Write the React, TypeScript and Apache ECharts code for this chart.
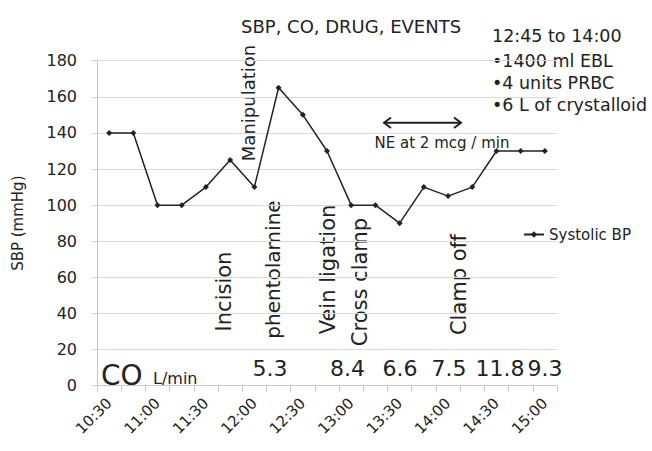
import React, { useEffect, useRef } from "react";
import * as echarts from "echarts";

const times = [
  "10:30", "10:45", "11:00", "11:15", "11:30", "11:45", "12:00", "12:15", "12:30", "12:45",
  "13:00", "13:15", "13:30", "13:45", "14:00", "14:15", "14:30", "14:45", "15:00",
];
const sbp = [140, 140, 100, 100, 110, 125, 110, 165, 150, 130, 100, 100, 90, 110, 105, 110, 130, 130, 130];
const yTicks = { min: 0, max: 180, interval: 20 };
const coValues = ["5.3", "8.4", "6.6", "7.5", "11.8", "9.3"];
const events = ["Manipulation", "Incision", "phentolamine", "Vein ligation", "Cross clamp", "Clamp off"];
const infoLines = ["12:45 to 14:00", "\u20221400 ml EBL", "\u20224 units PRBC", "\u20226 L of crystalloid"];
const drugLabel = "NE at 2 mcg / min";

const FONT = "DejaVu Sans";
const INK = "#222";

export default function App() {
  const ref = useRef<HTMLDivElement>(null);
  useEffect(() => {
    if (!ref.current) return;
    const chart = echarts.init(ref.current, undefined, { renderer: "svg" });

    const coX = [270, 347.5, 400, 449, 500, 545];
    const eventPos = [
      { x: 248, y: 103, size: 18 },
      { x: 223.5, y: 291.5, size: 21 },
      { x: 272.5, y: 269.5, size: 20 },
      { x: 328, y: 269.5, size: 21 },
      { x: 359.5, y: 282, size: 21 },
      { x: 459, y: 284.5, size: 21 },
    ];
    const infoY = [35.7, 60.5, 82.5, 105];

    const graphic: any[] = [];
    events.forEach((t, i) => {
      const p = eventPos[i];
      graphic.push({
        type: "text",
        x: p.x,
        y: p.y,
        rotation: Math.PI / 2,
        style: { text: t, fill: INK, font: `${p.size}px "${FONT}"`, align: "center", verticalAlign: "middle" },
      });
    });
    coValues.forEach((t, i) => {
      graphic.push({
        type: "text",
        x: coX[i],
        y: 368,
        style: { text: t, fill: INK, font: `22px "${FONT}"`, align: "center", verticalAlign: "middle" },
      });
    });
    graphic.push({
      type: "text",
      x: 101,
      y: 375,
      style: { text: "CO", fill: INK, font: `28px "${FONT}"`, align: "left", verticalAlign: "middle" },
    });
    graphic.push({
      type: "text",
      x: 153,
      y: 378.5,
      style: { text: "L/min", fill: INK, font: `16px "${FONT}"`, align: "left", verticalAlign: "middle" },
    });
    infoLines.forEach((t, i) => {
      graphic.push({
        type: "text",
        x: 492,
        y: infoY[i],
        style: { text: t, fill: INK, font: `17.5px "${FONT}"`, align: "left", verticalAlign: "middle" },
      });
    });
    graphic.push({
      type: "text",
      x: 442,
      y: 143,
      style: { text: drugLabel, fill: INK, font: `15px "${FONT}"`, align: "center", verticalAlign: "middle" },
    });
    // double-headed arrow
    graphic.push({ type: "line", shape: { x1: 384, y1: 122.7, x2: 461, y2: 122.7 }, style: { stroke: INK, lineWidth: 2 } });
    graphic.push({
      type: "polyline",
      shape: { points: [[391, 117.5], [384, 122.7], [391, 128]] },
      style: { stroke: INK, lineWidth: 2, fill: "none" },
    });
    graphic.push({
      type: "polyline",
      shape: { points: [[454, 117.5], [461, 122.7], [454, 128]] },
      style: { stroke: INK, lineWidth: 2, fill: "none" },
    });

    chart.setOption({
      animation: false,
      textStyle: { fontFamily: FONT },
      title: {
        text: "SBP, CO, DRUG, EVENTS",
        left: 241,
        top: 17,
        padding: 0,
        textStyle: { fontFamily: FONT, fontSize: 18, fontWeight: "normal", color: INK },
      },
      legend: {
        left: 518,
        top: 222,
        itemWidth: 20,
        itemHeight: 8,
        textStyle: { fontFamily: FONT, fontSize: 15, color: INK },
        data: ["Systolic BP"],
      },
      grid: { left: 97, right: 95, top: 60.7, bottom: 65.3, containLabel: false },
      xAxis: {
        type: "category",
        data: times,
        boundaryGap: true,
        axisLine: { lineStyle: { color: "#c8c8c8", width: 1 } },
        axisTick: { show: true, interval: 0, length: 6, lineStyle: { color: "#c8c8c8" } },
        axisLabel: { interval: 1, rotate: 45, fontSize: 15, color: INK, fontFamily: FONT, margin: 15 },
        splitLine: { show: false },
      },
      yAxis: {
        type: "value",
        min: yTicks.min,
        max: yTicks.max,
        interval: yTicks.interval,
        name: "SBP (mmHg)",
        nameLocation: "middle",
        nameGap: 72,
        nameTextStyle: { fontFamily: FONT, fontSize: 15, color: INK },
        axisLine: { show: true, lineStyle: { color: "#c8c8c8", width: 1 } },
        axisTick: { show: true, length: 6, lineStyle: { color: "#d4d4d4" } },
        axisLabel: { fontSize: 16, color: INK, fontFamily: FONT, margin: 20 },
        splitLine: { show: true, lineStyle: { color: "#d9d9d9", width: 1 } },
      },
      series: [
        {
          name: "Systolic BP",
          type: "line",
          data: sbp,
          symbol: "diamond",
          symbolSize: 6,
          lineStyle: { color: INK, width: 1.5 },
          itemStyle: { color: INK },
          z: 3,
        },
      ],
      graphic,
    });
    return () => chart.dispose();
  }, []);
  return <div ref={ref} style={{ width: 652, height: 451, position: "absolute", left: 0, top: 0 }} />;
}
